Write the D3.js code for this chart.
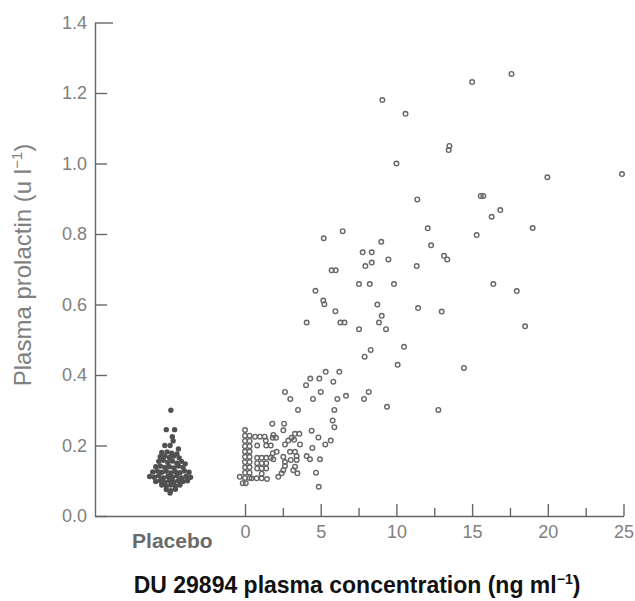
<!DOCTYPE html>
<html><head><meta charset="utf-8">
<script src="https://cdn.jsdelivr.net/npm/d3@7"></script>
<style>body{margin:0;background:#fff;}svg{display:block;font-family:"Liberation Sans",Arial,sans-serif;}</style>
</head><body>
<svg id="c" width="635" height="601"></svg>
<script>
// Y-axis tick values
const yTicks = [0, 0.2, 0.4, 0.6, 0.8, 1.0, 1.2, 1.4];
// X-axis major / minor tick values (drug concentration)
const xMajor = [0, 5, 10, 15, 20, 25];
const xMinor = [2.5, 7.5, 12.5, 17.5, 22.5];
const placeboLabel = "Placebo";
const placeboX = -4.8;

// Placebo group: [jitter x (data units), prolactin]
const placebo = [
[-4.9,0.30],[-5.2,0.245],[-4.65,0.245],[-4.8,0.225],[-4.75,0.213],
[-5.3,0.20],[-4.95,0.20],[-4.4,0.19],
[-5.5,0.18],[-5.15,0.182],[-4.85,0.178],[-4.5,0.176],
[-5.6,0.168],[-5.3,0.17],[-5.0,0.166],[-4.7,0.17],[-4.35,0.165],
[-5.7,0.155],[-5.4,0.158],[-5.1,0.152],[-4.8,0.156],[-4.5,0.15],[-4.2,0.155],[-3.95,0.148],
[-5.9,0.14],[-5.6,0.142],[-5.3,0.138],[-5.0,0.14],[-4.7,0.136],[-4.4,0.142],[-4.1,0.138],
[-6.1,0.125],[-5.8,0.128],[-5.5,0.124],[-5.2,0.127],[-4.9,0.122],[-4.6,0.126],[-4.3,0.123],[-4.0,0.128],[-3.7,0.124],
[-6.3,0.112],[-6.0,0.11],[-5.7,0.114],[-5.4,0.108],[-5.1,0.112],[-4.8,0.11],[-4.5,0.114],[-4.2,0.108],[-3.9,0.112],[-3.6,0.11],
[-5.9,0.098],[-5.6,0.1],[-5.3,0.096],[-5.0,0.1],[-4.7,0.097],[-4.4,0.1],[-4.1,0.098],[-3.8,0.1],
[-5.5,0.088],[-5.2,0.085],[-4.9,0.088],[-4.6,0.085],[-4.3,0.088],
[-5.2,0.075],[-4.9,0.072],[-4.6,0.076],[-4.95,0.065]
];

// DU 29894 group: [plasma concentration (ng/ml), prolactin]
const drug = [
[15.0,1.231],[17.6,1.254],[9.07,1.18],[10.6,1.141],[13.5,1.05],[13.45,1.038],[10.0,1.0],[19.97,0.961],[24.9,0.970],
[11.38,0.898],[15.57,0.908],[15.74,0.908],[16.86,0.868],[16.29,0.849],[19.0,0.817],[15.3,0.797],[12.07,0.816],
[12.29,0.768],[13.14,0.738],[13.36,0.728],[16.4,0.658],[17.95,0.638],[18.5,0.538],[14.46,0.42],[12.99,0.580],
[5.2,0.788],[6.45,0.808],[9.0,0.778],[7.77,0.748],[8.37,0.748],[7.95,0.709],[8.37,0.719],[9.47,0.728],[11.34,0.709],
[5.72,0.697],[5.99,0.697],[7.53,0.658],[8.24,0.658],[9.84,0.658],[4.65,0.639],
[5.17,0.611],[5.24,0.601],[5.97,0.581],[4.07,0.549],[6.3,0.549],[6.57,0.549],
[8.74,0.600],[11.43,0.590],[9.03,0.568],[8.85,0.549],[9.31,0.530],[7.53,0.530],
[8.30,0.471],[7.9,0.452],[10.5,0.480],[10.08,0.429],
[5.33,0.409],[6.23,0.409],[4.31,0.390],[4.91,0.390],[4.03,0.371],[5.83,0.381],
[2.64,0.352],[2.99,0.332],[4.49,0.332],[5.0,0.352],[6.1,0.332],[6.67,0.341],[8.17,0.352],[7.86,0.332],[9.38,0.310],[12.77,0.301],
[3.5,0.301],[5.9,0.301],[5.79,0.271],[5.9,0.252],
[1.8,0.262],[2.58,0.262],[2.53,0.243],[4.4,0.242],
[4.85,0.223],[5.66,0.214],[5.3,0.203],[4.45,0.193],
[4.07,0.170],[4.29,0.161],[4.95,0.161],[3.41,0.170],[3.41,0.159],[3.02,0.159],[2.64,0.153],[2.64,0.142],[2.53,0.130],
[2.09,0.182],[1.83,0.178],[1.87,0.161],[3.3,0.140],[2.2,0.111],[2.42,0.121],[3.46,0.121],[4.69,0.123],[4.87,0.083],
[1.83,0.222],[2.05,0.222],[2.64,0.203],[3.08,0.222],[3.3,0.233],[3.59,0.233],[3.24,0.216],[3.63,0.203],[2.86,0.214],[1.87,0.230],
[2.97,0.182],[3.3,0.182],[3.19,0.130],[2.53,0.168],
[0.0,0.244],[0.0,0.228],[0.0,0.213],[0.0,0.198],[0.0,0.183],[0.0,0.168],[0.0,0.153],[0.0,0.138],[0.0,0.123],[0.0,0.108],[0.05,0.093],
[0.3,0.228],[0.3,0.213],[0.3,0.198],[0.3,0.183],[0.3,0.168],[0.3,0.153],[0.3,0.138],[0.3,0.123],[0.3,0.108],
[-0.35,0.111],[-0.15,0.093],
[0.66,0.225],[0.99,0.225],[1.3,0.225],[1.37,0.214],
[0.8,0.2],[1.4,0.2],[0.8,0.165],[1.1,0.165],[1.4,0.165],[0.8,0.15],[1.1,0.15],[1.4,0.15],[0.8,0.135],[1.1,0.135],[1.4,0.135],[1.1,0.12],[1.7,0.2],[1.7,0.165],
[0.44,0.107],[0.77,0.107],[1.1,0.107],[1.45,0.105]
];

const svg = d3.select("#c");
const x = d3.scaleLinear().domain([-9.91, 25]).range([95, 623.5]);
const y = d3.scaleLinear().domain([0, 1.4]).range([516, 22.5]);
const axisCol = "#666", labCol = "#808080";

// X axis (major + minor ticks drawn upward)
const gx = svg.append("g").attr("transform", `translate(0,${y(0)})`)
  .call(d3.axisBottom(x).tickValues(xMajor).tickSize(-12).tickSizeOuter(0).tickPadding(8).tickFormat(d3.format("d")));
const gxm = svg.append("g").attr("transform", `translate(0,${y(0)})`)
  .call(d3.axisBottom(x).tickValues(xMinor).tickSize(-8).tickSizeOuter(0).tickFormat(""));
gxm.select(".domain").remove();
[gx, gxm].forEach(g => {
  g.selectAll("path,line").attr("stroke", axisCol).attr("stroke-width", 1.4);
});
gx.selectAll("text").attr("fill", labCol).attr("font-size", 18).attr("dy", "0.75em");

// Y axis
const gy = svg.append("g").attr("transform", `translate(${x(-9.91)},0)`)
  .call(d3.axisLeft(y).tickValues(yTicks).tickSize(-12).tickSizeOuter(0).tickPadding(8).tickFormat(d3.format(".1f")));
gy.selectAll("path,line").attr("stroke", axisCol).attr("stroke-width", 1.4);
gy.selectAll("text").attr("fill", labCol).attr("font-size", 18);
gy.selectAll(".tick").filter(d => d === 1.4).select("line").attr("x2", 18);

// Placebo points (filled)
svg.append("g").selectAll("circle").data(placebo).join("circle")
  .attr("cx", d => x(d[0])).attr("cy", d => y(d[1])).attr("r", 2.7)
  .attr("fill", "#505050");

// Drug points (open circles)
svg.append("g").selectAll("circle").data(drug).join("circle")
  .attr("cx", d => x(d[0])).attr("cy", d => y(d[1])).attr("r", 2.3)
  .attr("fill", "none").attr("stroke", "#666").attr("stroke-width", 1.4);

// Placebo label
svg.append("text").attr("x", x(placeboX)).attr("y", 548).attr("text-anchor", "middle")
  .attr("fill", "#6a6a6a").attr("font-size", 21).attr("font-weight", 600).text(placeboLabel);

// Y title
const yt = svg.append("text").attr("transform", `translate(31,265) rotate(-90)`)
  .attr("text-anchor", "middle").attr("fill", labCol).attr("font-size", 24);
yt.append("tspan").text("Plasma prolactin (u l");
yt.append("tspan").attr("font-size", 15).attr("dy", -9).text("−1");
yt.append("tspan").attr("dy", 9).text(")");

// X title
const xt = svg.append("text").attr("x", 357).attr("y", 593).attr("text-anchor", "middle")
  .attr("fill", "#111").attr("font-size", 23).attr("font-weight", "bold");
xt.append("tspan").text("DU 29894 plasma concentration (ng ml");
xt.append("tspan").attr("font-size", 14).attr("dy", -9).text("−1");
xt.append("tspan").attr("dy", 9).text(")");
</script>
</body></html>
